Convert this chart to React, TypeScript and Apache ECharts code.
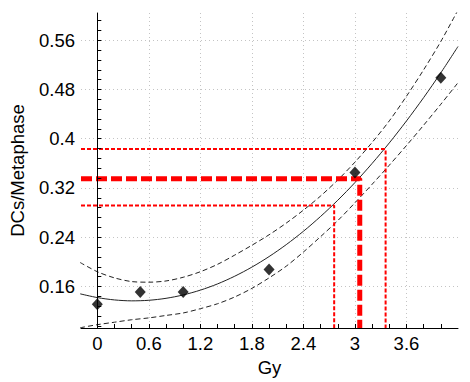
import React, { useEffect, useRef } from "react";
import * as echarts from "echarts";

// Measured points
const doses = [0, 0.5, 1, 2, 3, 4];
const dcsPerMetaphase = [0.131, 0.151, 0.151, 0.1875, 0.345, 0.499];

// Fitted curve and confidence band
const curveDose = [-0.2, 0, 0.2, 0.4, 0.6, 0.8, 1.0, 1.2, 1.4, 1.6, 1.8, 2.0, 2.2, 2.4, 2.6, 2.8, 3.0, 3.2, 3.4, 3.6, 3.8, 4.0, 4.2];
const fitted = [0.1481, 0.142, 0.1382, 0.1367, 0.1376, 0.1408, 0.1463, 0.1541, 0.1642, 0.1767, 0.1915, 0.2086, 0.228, 0.2497, 0.2738, 0.3001, 0.3288, 0.3599, 0.3932, 0.4289, 0.4668, 0.5071, 0.5498];
const upperBand = [0.199, 0.184, 0.174, 0.168, 0.167, 0.169, 0.175, 0.184, 0.196, 0.211, 0.227, 0.244, 0.263, 0.284, 0.307, 0.333, 0.362, 0.394, 0.429, 0.469, 0.512, 0.558, 0.609];
const lowerBand = [0.093, 0.098, 0.102, 0.106, 0.109, 0.113, 0.117, 0.124, 0.132, 0.143, 0.157, 0.174, 0.193, 0.216, 0.241, 0.267, 0.296, 0.326, 0.357, 0.389, 0.422, 0.456, 0.491];

// Dose estimate (lower, central, upper)
const estimatedDose = [2.758, 3.056, 3.357];
const measuredYield = [0.2915, 0.3352, 0.3832];

// Axes
const xMin = -0.19;
const xMax = 4.2;
const yMin = 0.0926;
const yMax = 0.6042;
const xLabels = [0, 0.6, 1.2, 1.8, 2.4, 3, 3.6];
const xTicks = [0, 0.2, 0.4, 0.6, 0.8, 1.0, 1.2, 1.4, 1.6, 1.8, 2.0, 2.2, 2.4, 2.6, 2.8, 3.0, 3.2, 3.4, 3.6, 3.8, 4.0];
const yLabels = [0.16, 0.24, 0.32, 0.4, 0.48, 0.56];
const yTicks = [0.096, 0.112, 0.128, 0.144, 0.16, 0.176, 0.192, 0.208, 0.224, 0.24, 0.256, 0.272, 0.288, 0.304, 0.32, 0.336, 0.352, 0.368, 0.384, 0.4, 0.416, 0.432, 0.448, 0.464, 0.48, 0.496, 0.512, 0.528, 0.544, 0.56, 0.576, 0.592];

const FONT = "'Liberation Sans', Arial, sans-serif";
const FS = 18.5;

export default function App() {
  const ref = useRef<HTMLDivElement>(null);
  useEffect(() => {
    if (!ref.current) return;
    const chart = echarts.init(ref.current, undefined, { renderer: "svg" });
    const pair = (xs: number[], ys: number[]) => xs.map((x, i) => [x, ys[i]]);
    const guideWidths = [2, 5, 2];
    const guideDash = [[4, 2], [11, 4], [4, 2]];
    const guides = estimatedDose.map((d, i) => ({
      type: "line",
      xAxisIndex: 0,
      yAxisIndex: 0,
      data: [[xMin, measuredYield[i]], [d, measuredYield[i]], [d, yMin]],
      symbol: "none",
      silent: true,
      z: 3,
      lineStyle: { color: "#ff0000", width: guideWidths[i], type: guideDash[i] },
    }));
    const baseAxisCommon = { type: "value", min: xMin, max: xMax };
    chart.setOption({
      animation: false,
      textStyle: { fontFamily: FONT },
      grid: { left: 79, right: 12, top: 13, bottom: 53, containLabel: false },
      xAxis: [
        {
          ...baseAxisCommon,
          position: "bottom",
          name: "Gy",
          nameLocation: "middle",
          nameGap: 30,
          nameTextStyle: { fontSize: FS, color: "#000", fontFamily: FONT },
          axisLine: { show: true, lineStyle: { color: "#000", width: 1 } },
          axisTick: { show: true, inside: true, length: 4, customValues: xTicks, lineStyle: { color: "#000" } },
          axisLabel: { show: true, customValues: xLabels, margin: 6, fontSize: FS, color: "#000", fontFamily: FONT },
          splitLine: { show: false },
          z: 10,
        },
        {
          ...baseAxisCommon,
          axisLine: { show: false },
          axisTick: { show: false, customValues: xLabels.filter((v) => v !== 0) },
          axisLabel: { show: false },
          splitLine: { show: true, lineStyle: { color: "#c4c4c4", type: [1, 3], width: 1 } },
        },
        {
          ...baseAxisCommon,
          axisLine: { show: false },
          axisTick: { show: false, customValues: [0] },
          axisLabel: { show: false },
          splitLine: { show: true, lineStyle: { color: "#c8c8c8", type: "solid", width: 1 } },
        },
      ],
      yAxis: [
        {
          type: "value",
          min: yMin,
          max: yMax,
          position: "left",
          name: "DCs/Metaphase",
          nameLocation: "middle",
          nameGap: 54,
          nameTextStyle: { fontSize: FS, color: "#000", fontFamily: FONT },
          axisLine: { show: true, lineStyle: { color: "#000", width: 1 } },
          axisTick: { show: true, inside: true, length: 4, customValues: yTicks, lineStyle: { color: "#000" } },
          axisLabel: { show: true, customValues: yLabels, margin: 6, fontSize: FS, color: "#000", fontFamily: FONT },
          splitLine: { show: false },
          z: 10,
        },
        {
          type: "value",
          min: yMin,
          max: yMax,
          axisLine: { show: false },
          axisTick: { show: false, customValues: yLabels },
          axisLabel: { show: false },
          splitLine: { show: true, lineStyle: { color: "#c4c4c4", type: [1, 3], width: 1 } },
        },
      ],
      series: [
        {
          type: "line",
          xAxisIndex: 0,
          yAxisIndex: 0,
          data: pair(curveDose, upperBand),
          symbol: "none",
          smooth: 0.3,
          silent: true,
          z: 2,
          lineStyle: { color: "#222", width: 1, type: [5, 3] },
        },
        {
          type: "line",
          xAxisIndex: 0,
          yAxisIndex: 0,
          data: pair(curveDose, lowerBand),
          symbol: "none",
          smooth: 0.3,
          silent: true,
          z: 2,
          lineStyle: { color: "#222", width: 1, type: [5, 3] },
        },
        {
          type: "line",
          xAxisIndex: 0,
          yAxisIndex: 0,
          data: pair(curveDose, fitted),
          symbol: "none",
          smooth: 0.3,
          silent: true,
          z: 2,
          lineStyle: { color: "#222", width: 1, type: "solid" },
        },
        ...guides,
        {
          type: "scatter",
          xAxisIndex: 0,
          yAxisIndex: 0,
          data: pair(doses, dcsPerMetaphase),
          symbol: "diamond",
          symbolSize: [11, 12],
          itemStyle: { color: "#000" },
          z: 5,
        },
      ],
    });
    return () => chart.dispose();
  }, []);
  return (
    <div
      ref={ref}
      style={{ position: "absolute", left: 0, top: 0, width: 470, height: 382, background: "#fff" }}
    />
  );
}
